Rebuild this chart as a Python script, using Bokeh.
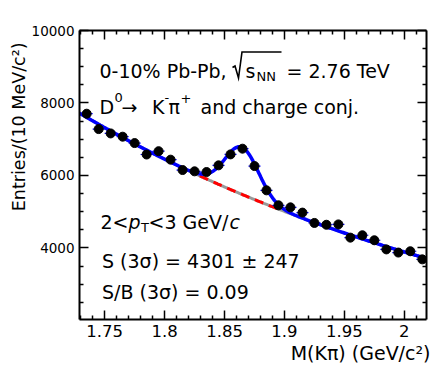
import numpy as np
from bokeh.plotting import figure
from bokeh.models import (Label, LinearAxis, FixedTicker, PolyAnnotation, Range1d, Title)
from bokeh.embed import file_html
from bokeh.resources import INLINE

# ---- data ----
mass = [1.735, 1.745, 1.755, 1.765, 1.775, 1.785, 1.795, 1.805, 1.815, 1.825,
        1.835, 1.845, 1.855, 1.865, 1.875, 1.885, 1.895, 1.905, 1.915, 1.925,
        1.935, 1.945, 1.955, 1.965, 1.975, 1.985, 1.995, 2.005, 2.015]
entries = [7704, 7280, 7160, 7070, 6894, 6578, 6670, 6436, 6150, 6114,
           6095, 6279, 6582, 6739, 6260, 5590, 5177, 5120, 4975, 4690,
           4640, 4650, 4285, 4350, 4212, 3960, 3873, 3909, 3685]
bin_half_width = 0.005

# fit parameters (exponential background + gaussian signal)
bkg_norm = 7700.0      # at m_ref
bkg_ref = 1.73
bkg_slope = 2.53
sig_amp = 1300.0
sig_mean = 1.8645
sig_sigma = 0.014
sig_region = (1.829, 1.897)

x_ticks = [1.75, 1.8, 1.85, 1.9, 1.95, 2]
x_minor = [1.73, 1.74, 1.76, 1.77, 1.78, 1.79, 1.81, 1.82, 1.83, 1.84, 1.86, 1.87,
           1.88, 1.89, 1.91, 1.92, 1.93, 1.94, 1.96, 1.97, 1.98, 1.99, 2.01]
y_ticks = [4000, 6000, 8000, 10000]
y_minor = [2500, 3000, 3500, 4500, 5000, 5500, 6500, 7000, 7500, 8500, 9000, 9500]

X_RANGE = (1.729, 2.0185)
Y_RANGE = (2026, 10000)

FONT = "DejaVu Sans"

p = figure(width=435, height=373, x_range=Range1d(*X_RANGE), y_range=Range1d(*Y_RANGE),
           output_backend="svg", toolbar_location=None,
           min_border_left=79, min_border_right=9, min_border_top=30, min_border_bottom=54,
           x_axis_location=None, y_axis_location=None)
p.grid.visible = False
p.outline_line_color = None
p.background_fill_color = "white"
p.border_fill_color = "white"


def make_axis(ticks, minor, show_labels, size):
    ax = LinearAxis(ticker=FixedTicker(ticks=ticks, minor_ticks=minor))
    ax.axis_line_width = 2
    ax.axis_line_color = "black"
    ax.major_tick_in = 9
    ax.major_tick_out = 0
    ax.minor_tick_in = 4
    ax.minor_tick_out = 0
    ax.major_tick_line_width = 1.5
    ax.minor_tick_line_width = 1.5
    ax.major_label_text_font = FONT
    if show_labels:
        ax.major_label_text_color = "black"
        ax.major_label_text_font_size = f"{size}px"
    else:
        ax.major_label_text_color = None
        ax.major_label_text_font_size = "1px"
        ax.major_label_standoff = 0
    return ax


xb = make_axis(x_ticks, x_minor, True, 16.5)
xb.major_label_overrides = {1.8: "1.8", 1.9: "1.9", 2: "2", 1.75: "1.75", 1.85: "1.85", 1.95: "1.95"}
xb.major_label_standoff = 5
p.add_layout(xb, "below")
yl = make_axis(y_ticks, y_minor, True, 13.5)
yl.major_label_standoff = 5
p.add_layout(yl, "left")
p.add_layout(make_axis(x_ticks, x_minor, False, 0), "above")
p.add_layout(make_axis(y_ticks, y_minor, False, 0), "right")

# axis titles
xt = Title(text="M(K\u03c0) (GeV/c\u00b2)", align="right", offset=-4, text_font=FONT,
           text_font_size="19px", text_font_style="normal", text_color="black", standoff=1)
p.add_layout(xt, "below")
yt = Title(text="Entries/(10 MeV/c\u00b2)", align="right", offset=12, text_font=FONT,
           text_font_size="17.5px", text_font_style="normal", text_color="black", standoff=0)
p.add_layout(yt, "left")

# ---- fit curves ----
mgrid = np.linspace(X_RANGE[0], X_RANGE[1], 500)
bkg = bkg_norm * np.exp(-bkg_slope * (mgrid - bkg_ref))
tot = bkg + sig_amp * np.exp(-0.5 * ((mgrid - sig_mean) / sig_sigma) ** 2)
p.line(mgrid, bkg, line_color="#999999", line_width=3)
msk = (mgrid >= sig_region[0]) & (mgrid <= sig_region[1])
p.line(mgrid[msk], bkg[msk], line_color="red", line_width=3, line_dash="9 6")

# ---- data ----
m = np.array(mass)
e = np.array(entries)
p.segment(m - bin_half_width, e, m + bin_half_width, e, line_color="blue", line_width=1.2)
p.line(mgrid, tot, line_color="blue", line_width=3.5)
p.scatter(m, e, size=9, marker="circle", fill_color="black", line_color="black")

# ---- text ----
FL, FB = 79, 319


def lab(text, px, py, size, style="normal", align="left"):
    p.add_layout(Label(x=px - FL, y=FB - py, x_units="screen", y_units="screen", text=text,
                       text_font=FONT, text_font_size=f"{size}px", text_font_style=style,
                       text_align=align, text_baseline="alphabetic", text_color="black"))


T = 19
S = 13
# line 1
lab("0-10% Pb-Pb,", 99, 70, T)
rad_x = [232, 234.5, 238, 241.5, 281, 241.5, 238, 234.5]
rad_y = [67, 65.5, 77.5, 51.5, 51.5, 51.5, 77.5, 65.5]
p.add_layout(PolyAnnotation(xs=[x - FL for x in rad_x], ys=[FB - y for y in rad_y],
                            xs_units="screen", ys_units="screen", fill_color=None,
                            line_color="black", line_alpha=1.0, line_width=1.6,
                            line_join="miter"))
lab("s", 245, 70, T)
lab("NN", 256, 76, S)
lab("= 2.76 TeV", 286, 70, T)
# line 2
lab("D", 99, 106.5, T)
lab("0", 114, 97, S)
lab("\u2192", 121, 106.5, T)
lab("K", 151.5, 106.5, T)
lab("-", 164, 97, S)
lab("\u03c0", 168, 106.5, T)
lab("+", 180, 98, S)
lab("and charge conj.", 200, 106.5, T)
# lower block
lab("2<", 100, 221.5, T)
lab("p", 128, 221.5, T, "italic")
lab("T", 140.5, 227, S)
lab("<3 GeV/", 148, 221.5, T)
lab("c", 229, 221.5, T, "italic")
lab("S (3\u03c3) = 4301 \u00b1 247", 101.5, 260, T)
lab("S/B (3\u03c3) = 0.09", 101.5, 291, T)

open("out.html", "w").write(file_html(p, INLINE))
